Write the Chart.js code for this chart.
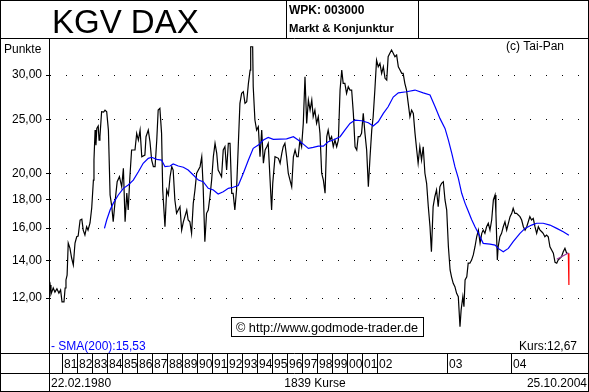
<!DOCTYPE html>
<html><head><meta charset="utf-8">
<script src="https://cdn.jsdelivr.net/npm/chart.js@4.4.0/dist/chart.umd.min.js"></script>
<style>html,body{margin:0;padding:0;background:#fff;overflow:hidden}canvas{display:block}</style>
</head><body>
<canvas id="c" width="589" height="392"></canvas>
<script>
// ---- data (index = Kurs number, 0..1838) ----
const kursIdx = [0,4,7,15,21,28,35,41,46,53,57,60,64,68,74,80,86,90,92,98,103,110,116,121,127,133,138,145,151,157,159,163,166,169,174,177,180,186,193,198,204,210,216,222,227,233,241,249,257,263,269,275,280,286,292,304,310,316,322,328,339,343,351,357,363,369,375,381,386,392,398,402,410,416,422,428,434,439,445,451,463,469,475,487,492,498,504,510,516,522,534,540,545,551,557,563,569,575,581,587,593,598,604,610,616,622,628,634,640,646,651,657,663,669,675,681,687,693,699,705,711,713,720,722,728,734,740,746,752,758,764,770,775,781,787,791,799,811,817,823,828,834,840,846,852,858,864,870,876,881,887,893,899,905,911,917,923,929,934,940,946,952,958,964,970,976,982,987,993,999,1005,1011,1017,1023,1029,1035,1040,1046,1052,1058,1064,1070,1076,1082,1088,1093,1099,1105,1111,1117,1123,1129,1135,1141,1146,1152,1158,1164,1170,1176,1182,1188,1194,1199,1205,1211,1217,1223,1229,1235,1241,1247,1252,1258,1264,1270,1276,1282,1288,1294,1300,1305,1311,1317,1323,1329,1335,1341,1347,1352,1358,1364,1370,1376,1382,1388,1394,1400,1406,1412,1418,1423,1429,1435,1441,1447,1453,1457,1463,1467,1471,1477,1482,1488,1494,1500,1506,1512,1518,1524,1530,1535,1541,1547,1553,1559,1565,1571,1577,1580,1585,1588,1594,1600,1606,1612,1618,1624,1630,1636,1641,1647,1653,1665,1671,1677,1683,1689,1700,1706,1712,1718,1724,1730,1736,1742,1747,1753,1759,1765,1771,1777,1783,1789,1795,1800,1806,1812,1818,1824,1830,1836,1838];
const kursVal = [12.41,12.66,12.20,12.51,12.30,12.47,12.25,12.41,11.82,11.82,12.51,12.93,13.19,15.05,14.74,14.15,13.75,14.62,15.05,15.44,15.48,16.54,16.60,15.87,15.55,16.09,15.87,16.34,17.38,19.49,21.16,23.93,22.50,24.10,24.33,22.97,23.29,25.80,25.77,25.98,25.80,23.93,18.33,17.47,16.42,17.73,19.36,19.76,18.96,20.45,16.42,18.48,17.23,19.76,22.05,22.05,23.61,22.97,23.93,21.45,21.60,23.29,23.93,22.81,21.16,20.59,20.59,22.97,25.98,26.16,23.61,18.71,16.09,18.71,18.33,19.76,20.59,20.31,17.96,17.00,17.47,15.87,16.42,17.23,16.54,16.42,15.66,17.71,18.71,20.04,20.59,21.45,18.96,15.13,17.00,17.23,18.20,19.49,21.45,22.66,21.75,20.31,20.04,19.76,22.05,22.35,20.31,22.66,22.66,18.46,18.46,17.23,18.71,22.35,26.71,27.83,28.01,26.71,26.88,29.00,30.62,33.70,33.70,28.59,24.94,23.93,24.26,21.45,23.93,20.88,22.05,22.35,22.66,19.76,17.23,19.23,21.45,21.31,20.88,21.75,22.35,22.66,21.45,20.04,19.49,18.96,21.45,22.05,21.45,21.45,22.97,22.35,24.60,29.79,24.60,27.07,25.98,27.07,25.28,25.98,24.60,25.28,23.61,20.04,19.49,18.46,23.29,23.93,22.97,23.29,22.35,22.97,22.35,22.97,28.21,30.62,29.00,29.00,27.83,28.59,28.21,28.21,25.63,22.35,22.05,23.29,23.29,23.61,25.63,23.61,22.05,18.96,21.45,23.93,25.28,28.21,31.90,31.04,31.48,30.21,31.04,29.60,29.39,32.34,32.80,33.24,32.80,32.34,32.57,31.04,30.62,30.21,30.21,29.00,28.21,26.71,25.28,25.98,25.63,23.61,22.05,20.88,22.35,21.16,22.35,20.04,19.23,17.47,16.09,14.52,17.47,18.20,18.71,17.47,18.96,19.23,19.36,17.96,17.23,14.82,13.47,13.10,12.75,12.58,12.24,12.07,10.67,11.43,12.07,11.58,12.93,13.10,13.85,13.85,14.03,14.33,14.82,15.44,15.87,15.05,15.66,15.87,15.66,16.09,16.32,15.87,16.54,17.96,18.33,17.00,14.03,14.82,15.44,15.66,16.09,16.42,15.87,16.32,16.77,17.00,17.35,17.00,17.00,16.77,16.54,16.09,15.87,16.09,16.77,16.54,16.65,16.09,15.66,16.09,15.87,15.76,15.66,15.44,15.55,15.44,14.82,14.62,14.43,13.90,13.85,14.03,14.13,14.23,14.52,14.72,14.43,14.43,12.67];
const smaIdx = [196,204,216,227,245,263,280,298,316,333,351,363,381,398,410,428,439,457,475,492,510,528,545,563,581,598,616,634,651,669,687,705,722,740,758,775,793,817,840,864,881,899,917,934,952,970,987,1005,1029,1046,1064,1082,1105,1129,1146,1164,1182,1199,1217,1235,1264,1294,1323,1347,1365,1382,1400,1412,1424,1435,1447,1459,1471,1482,1494,1506,1518,1535,1559,1577,1588,1606,1624,1641,1665,1683,1706,1724,1747,1771,1795,1818,1838];
const smaVal = [15.98,16.54,17.23,17.71,18.33,18.84,19.10,19.49,20.17,20.88,21.31,21.40,21.22,21.16,20.59,20.65,20.82,20.65,20.54,20.31,19.90,19.49,19.36,18.84,18.71,18.40,18.58,18.84,18.92,19.06,20.04,21.16,22.20,22.50,22.97,23.22,23.03,23.06,23.09,23.29,22.97,22.59,22.20,22.29,22.41,22.41,22.81,22.97,23.29,23.93,24.60,24.94,24.87,24.66,24.33,24.76,25.63,26.34,27.41,27.88,28.01,28.21,27.88,27.64,26.34,25.11,24.10,22.97,21.75,20.59,19.65,18.46,17.71,17.16,16.58,16.09,15.66,15.03,14.98,14.92,14.72,14.52,14.72,15.13,15.66,15.98,16.20,16.32,16.32,16.20,15.98,15.76,15.53];
const shortIdx = [1795,1815,1836];
const shortVal = [14.08,14.25,14.45];
const yTicks = [12,14,16,18,20,25,30];
const yearLabels = ['81','82','83','84','85','86','87','88','89','90','91','92','93','94','95','96','97','98','99','00','01','02','03','04'];
const yearStartIdx = [46,99,152,205,258,311,364,417,470,523,576,629,682,735,788,841,894,947,1000,1053,1106,1159,1407,1633];
const titleText = 'KGV DAX';
const wpkText = 'WPK: 003000';
const groupText = 'Markt & Konjunktur';
const smaText = '- SMA(200):15,53';
const kursText = 'Kurs:12,67';
const firstDate = '22.02.1980';
const lastDate = '25.10.2004';
const countText = '1839 Kurse';

const FONT = 'Arial, "Liberation Sans", sans-serif';
const pts = (xs, ys) => xs.map((x, i) => ({x, y: ys[i]}));
const lastIdx = kursIdx.length - 1;

const framePlugin = {
  id: 'frame',
  beforeDraw(chart) {
    const c = chart.ctx;
    c.save(); c.fillStyle = '#fff'; c.fillRect(0, 0, chart.width, chart.height); c.restore();
  },
  afterDraw(chart) {
    const c = chart.ctx, W = chart.width, H = chart.height;
    const xs = chart.scales.x;
    c.save();
    c.strokeStyle = '#000'; c.lineWidth = 1;
    const line = (x1, y1, x2, y2) => { c.beginPath(); c.moveTo(x1, y1); c.lineTo(x2, y2); c.stroke(); };
    c.fillStyle = '#fff';
    c.fillRect(1, 354, W - 2, H - 355);
    c.strokeRect(0.5, 0.5, W - 1, H - 1);
    line(0, 38.5, W, 38.5);
    line(286.5, 0, 286.5, 38);
    line(418.5, 0, 418.5, 38);
    line(49.5, 38, 49.5, H);
    line(0, 353.5, W, 353.5);
    line(0, 373.5, W, 373.5);
    c.fillStyle = '#000';
    c.textBaseline = 'alphabetic';
    c.font = '12px ' + FONT;
    yearStartIdx.forEach((v, i) => {
      const px = Math.round(xs.getPixelForValue(v));
      line(px + 0.5, 354, px + 0.5, 373);
      c.fillText(yearLabels[i], px + 2, 368);
    });
    // header
    c.font = '33px ' + FONT;
    c.fillText(titleText, 52, 33);
    c.font = 'bold 12px ' + FONT;
    c.fillText(wpkText, 289, 14);
    c.font = 'bold 11.3px ' + FONT;
    c.fillText(groupText, 289, 32);
    // labels in plot
    c.font = '12px ' + FONT;
    c.fillText('Punkte', 4, 53);
    c.fillText('(c) Tai-Pan', 506, 50);
    c.fillText(firstDate, 51, 387);
    c.textAlign = 'center';
    c.fillText(countText, 315, 387);
    c.textAlign = 'right';
    c.fillText(lastDate, 587, 387);
    c.fillText(kursText, 577, 350);
    c.textAlign = 'left';
    c.fillStyle = '#0000ff';
    c.fillText(smaText, 51, 350);
    // copyright box
    c.fillStyle = '#fff';
    c.fillRect(232, 318, 191, 18);
    c.strokeRect(231.5, 317.5, 192, 19);
    c.fillStyle = '#000';
    c.font = '12.7px ' + FONT;
    c.fillText('\u00A9 http://www.godmode-trader.de', 236, 332);
    c.restore();
  }
};

new Chart(document.getElementById('c'), {
  type: 'line',
  data: {
    datasets: [
      { label: 'KGV', data: pts(kursIdx, kursVal), borderColor: '#000', borderWidth: 1.2, pointRadius: 0, tension: 0, order: 3,
        segment: { borderColor: ctx => ctx.p1DataIndex === lastIdx ? '#ff0000' : '#000' } },
      { label: 'SMA(200)', data: pts(smaIdx, smaVal), borderColor: '#0000ff', borderWidth: 1.2, pointRadius: 0, tension: 0, order: 2 },
      { label: 'kurz', data: pts(shortIdx, shortVal), borderColor: '#993399', borderWidth: 1.2, pointRadius: 0, tension: 0, order: 1 }
    ]
  },
  options: {
    responsive: false, animation: false, devicePixelRatio: 1,
    layout: { padding: { top: 39, bottom: 37, left: 0, right: 2 } },
    plugins: { legend: { display: false }, tooltip: { enabled: false } },
    scales: {
      x: { type: 'linear', min: 0, max: 1902, display: false },
      y: {
        type: 'logarithmic', min: 9.50, max: 34.79,
        afterBuildTicks: s => { s.ticks = yTicks.map(v => ({ value: v })); },
        afterFit: s => { s.width = 49; },
        ticks: { color: '#000', font: { family: FONT, size: 12 }, padding: 4,
          callback: v => Number(v).toFixed(2).replace('.', ',') },
        grid: { color: '#000', lineWidth: 1, drawTicks: true, tickLength: 3, tickColor: '#000' },
        border: { display: true, color: '#000', width: 1, dash: [1, 15] }
      }
    }
  },
  plugins: [framePlugin]
});
</script>
</body></html>
